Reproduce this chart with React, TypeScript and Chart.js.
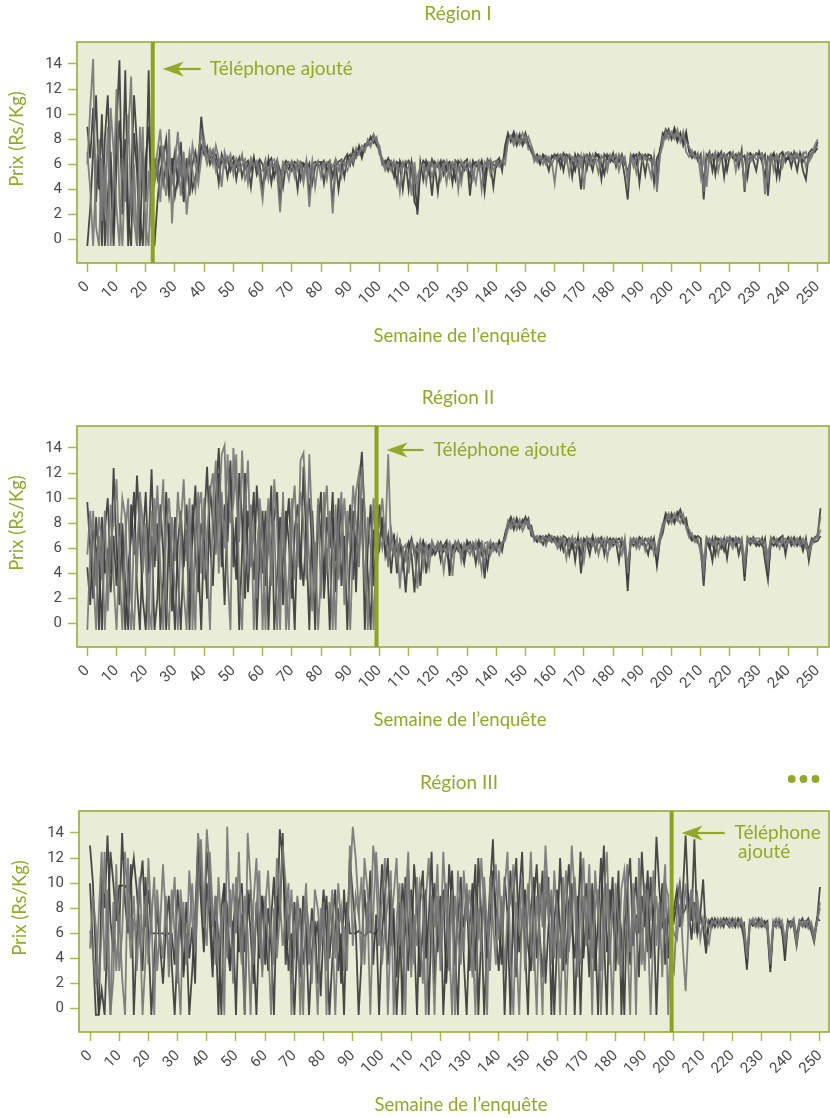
import React, { useEffect, useRef } from "react";
import { Chart, registerables } from "chart.js";
Chart.register(...registerables);

// ---------- data ----------
const weekTicks = [0, 10, 20, 30, 40, 50, 60, 70, 80, 90, 100, 110, 120, 130, 140, 150, 160, 170, 180, 190, 200, 210, 220, 230, 240, 250];
const priceTicks = [0, 2, 4, 6, 8, 10, 12, 14];
const regionTitles = ["Région I", "Région II", "Région III"];
const phoneWeeks = [22.4, 99, 199.2];
const phoneLabel = "Téléphone ajouté";
const yTitle = "Prix (Rs/Kg)";
const xTitle = "Semaine de l\u2019enquête";

// Region I (weeks 0..250)
const r1A = [
  9, 6.5, 10.5, 3, 7.5, -0.5, 8, 11.5, 5, -0.5,
  6, 9.5, 4, 13.5, 2, -0.5, 8.5, 5.5, -0.5, 7,
  3, 13.5, 1, 6.5, 5, 7.5, 4.5, 6, 3.5, 5.5,
  7, 4.5, 6, 3, 5.5, 6.5, 4, 5, 6, 9.8,
  7.5, 7, 6.5, 7, 6.2, 4.5, 6.8, 6, 6.5, 5.5,
  6.2, 5.8, 6.5, 5, 6, 6.3, 5.5, 6.6, 5.2, 6,
  4, 5.8, 6.2, 6.5, 5, 6, 3, 5.8, 6.3, 6,
  5.5, 6.2, 6, 4.8, 6.1, 5.9, 3.5, 6, 6.2, 5.8,
  6, 6.3, 5.5, 6, 3, 5.8, 6.2, 6.4, 5, 6.5,
  6.8, 6, 7, 7.3, 6.5, 7.5, 7.8, 8, 8.3, 7.5,
  7.2, 6, 6.3, 5.5, 6.2, 6, 4.5, 6.3, 5.8, 6.1,
  4, 6.2, 5, 2, 5.5, 6.3, 6, 5.2, 6.4, 5.8,
  3.8, 6, 6.3, 5.5, 6.1, 4.5, 6.3, 6, 5, 6.2,
  6.4, 3.5, 6, 6.2, 5.6, 6.3, 5, 6.4, 6, 4.2,
  6.2, 6.5, 5.5, 7.5, 8.5, 7.8, 8.3, 7.5, 8.2, 7.8,
  8.5, 7.6, 7, 6.5, 6.8, 6.2, 6.6, 6.3, 5.5, 6.7,
  6.5, 6.8, 5.8, 6.9, 6.5, 6.7, 5, 6.8, 6.2, 4,
  6.5, 6.8, 6.3, 5.5, 6.9, 6.6, 4.8, 6.8, 6.5, 6.2,
  6.9, 5.8, 6.7, 6.4, 5, 3.2, 6.5, 6.8, 6, 6.9,
  6.5, 5.2, 6.8, 6.7, 4.5, 6.5, 7, 8.5, 8.2, 8.8,
  8, 8.7, 7.8, 8.5, 7.5, 8.3, 7.2, 6.8, 7, 6.3,
  6.8, 3.2, 6.5, 7, 5.5, 6.8, 6.6, 7, 5, 6.8,
  7, 6.5, 6.8, 5.8, 7.1, 3.8, 6.7, 6.9, 6.3, 5.5,
  7, 6.4, 6.8, 3.5, 6.5, 6.9, 5, 6.8, 7, 6.2,
  6.7, 5.8, 7, 6.5, 6.8, 5.5, 4.8, 6.9, 7.2, 7,
  7.8,
];
const r1B = [
  6, 10.5, 14.4, 1, -0.5, 6.5, 2, 9, -0.5, 4.5,
  12, 3, -0.5, 6, 8.5, 13, 1.5, -0.5, 4, 9,
  -0.5, 5.5, 2.5, 5.5, 7, 8.8, 5, 3.5, 8.8, 1.3,
  6, 8.6, 5, 7, 2, 4.5, 7.5, 6, 4.5, 6.5,
  8, 6.5, 7.2, 6, 7.5, 6.5, 4.2, 7, 6.2, 6.8,
  5.2, 6.5, 6, 6.8, 4.8, 5.5, 6.5, 5.8, 6, 5,
  3.2, 6, 5.5, 6.2, 6.4, 5.2, 2.2, 6, 5.5, 6.2,
  6, 5, 6.3, 5.9, 4.5, 6.2, 2.6, 5.5, 6, 6.3,
  5, 6, 6.2, 5.8, 2.1, 6, 5.5, 6.3, 6, 5.5,
  6.2, 6.8, 6.5, 7, 7.2, 7, 8, 7.6, 8, 8.2,
  6.8, 6.5, 5.8, 6.2, 5.5, 6.3, 5.8, 3.8, 6, 6.3,
  6, 3.5, 6.2, 4, 6, 5.8, 4.5, 6.2, 6, 5.5,
  6.2, 4.8, 5.8, 6.3, 5, 6, 6.2, 4, 6.3, 5.8,
  5.5, 6.2, 4.8, 6, 6.3, 4, 6.2, 5.8, 6.4, 5.5,
  6, 5.8, 6.3, 6, 8, 8.3, 7.5, 8, 7.8, 8.5,
  7.8, 8.2, 7.5, 6.8, 6.2, 6.7, 6.4, 6, 6.6, 6.2,
  4.5, 6.6, 6.8, 6.3, 6.6, 5.2, 6.6, 6.5, 5.8, 6.7,
  4, 6.6, 6, 6.8, 6.3, 5.3, 6.7, 6.4, 5.5, 6.8,
  6.5, 6.8, 5.5, 6.6, 6.5, 4.5, 6.8, 6.3, 5.3, 6.6,
  6.8, 6.5, 6, 5, 6.7, 3.8, 6.8, 7.5, 8.6, 8,
  8.6, 8.2, 8.8, 7.8, 8.6, 7, 6.6, 7.1, 6.5, 6.9,
  5, 6.7, 4.2, 6.8, 6.5, 7, 5.5, 6.7, 6.9, 6.4,
  6.6, 7, 5.5, 6.8, 6.5, 4.5, 6.9, 6.6, 6.8, 6.4,
  6.5, 6.8, 3.6, 6.4, 6.8, 5.5, 6.7, 6.4, 5.8, 6.9,
  7, 6.6, 6.2, 6.9, 6.5, 6.8, 7, 6.2, 6.6, 7.2,
  7.5,
];
const r1C = [
  -0.5, 2.5, 7, 11.5, 4, 10, -0.5, 3.5, 7, 1,
  9, 14.3, 2, 8, -0.5, 5, 11.5, 7.5, 2, -0.5,
  6.5, 9, 4, -0.5, 3, 5.5, 6.5, 8, 4, 6.5,
  3.5, 5, 7.8, 4, 6.5, 3.5, 6, 7, 5.5, 7.5,
  6.8, 7.4, 6, 6.6, 6.8, 5.8, 6.2, 6.5, 5, 6.3,
  6.6, 4.8, 6.2, 6.5, 5.6, 6, 4.2, 6.3, 5.8, 6.4,
  6, 5, 6.4, 4.5, 6, 6.3, 5.5, 4.2, 6, 5.6,
  6.2, 5.8, 4, 6.2, 6, 5.5, 6.1, 4.5, 5.8, 6.2,
  6.2, 4.5, 6, 6.3, 5, 6.2, 4, 5.8, 6.4, 6.8,
  6, 7.2, 6.6, 7.5, 6.8, 7.6, 7.5, 8.2, 7.7, 8,
  7, 6.3, 6, 6.5, 6, 5, 6.2, 6, 4, 6,
  6.3, 5.8, 3, 2.5, 6.2, 4.8, 6.3, 5.8, 3.5, 6.2,
  5.8, 6.3, 5.2, 6, 6.2, 5.8, 4.8, 6.3, 6, 5.5,
  6, 5, 6.3, 5.8, 6, 6.2, 3.8, 6, 6.3, 6,
  5.8, 6.2, 6, 6.8, 8.2, 8, 8.6, 7.8, 8.4, 7.5,
  8, 7.5, 7.2, 6.6, 6.5, 6, 6.8, 6.5, 6.2, 6.5,
  6.8, 6.2, 6.6, 5.5, 6.8, 6.6, 6.2, 5.5, 6.8, 6.5,
  6.6, 5.6, 6.8, 6.2, 6.6, 6.8, 6, 5.2, 6.8, 6.5,
  6.2, 6.6, 6.2, 6.8, 6, 5.5, 6.2, 6.6, 6.8, 4.5,
  6.6, 6.8, 6.4, 6.5, 6.2, 5, 7.2, 8, 8.8, 8.4,
  8.2, 8.9, 8, 8.4, 7.8, 8.6, 7, 6.5, 6.8, 6.6,
  6.5, 4.5, 6.8, 6.5, 6.8, 5.2, 6.9, 6.5, 6.8, 5.5,
  6.8, 6.6, 6.3, 6.9, 6.5, 6.7, 5, 6.8, 6.5, 6.9,
  6.8, 6.2, 5, 6.6, 6.2, 6.8, 6.5, 5, 6.8, 6.5,
  6.4, 6.9, 6.5, 5.5, 6.9, 6.2, 6.6, 6.5, 6.9, 7,
  7.3,
];
const r1D = [
  7, 4, -0.5, 5.5, 8, 1.5, 6, -0.5, 10.5, 7,
  2.5, -0.5, 6.5, 3, 10, 2.5, 6, -0.5, 9, 4.5,
  1, -0.5, 6, 4.5, 6, 3, 7.5, 5, 6.5, 4.5,
  5.5, 6.5, 3.5, 6.5, 5, 7, 5.5, 4, 6.8, 8.5,
  7.2, 6, 6.8, 7.2, 5.5, 6.3, 6.5, 5.8, 6.6, 6,
  5.8, 6.3, 5.5, 6, 6.4, 4.5, 6.2, 6, 6.3, 5.5,
  5.5, 6.4, 4.8, 6, 5.8, 6.4, 4.5, 6.2, 5.8, 4.8,
  6.3, 6, 5.5, 6.1, 5.2, 6.3, 5, 6.3, 4.2, 6,
  5.8, 6.2, 4.8, 6.2, 5.8, 6.4, 6, 5, 6.2, 6,
  6.5, 6.2, 7.3, 6.8, 7.5, 7.2, 7.8, 7.4, 8.4, 7.8,
  7.5, 6.2, 5.5, 6, 6.3, 5.8, 6, 5.5, 6.2, 5.5,
  5.8, 6, 4.5, 5, 5.8, 6, 5.5, 6, 5, 6,
  6, 5.5, 6, 4.5, 6, 6.2, 5.5, 5.8, 4.5, 6,
  6.2, 5.8, 5.5, 4.5, 6.2, 5.8, 6, 6.3, 5.2, 6.2,
  6.3, 6, 6.2, 6.5, 7.8, 8.2, 7.8, 8.4, 7.6, 8,
  8.3, 7.2, 7.4, 6.2, 6.6, 6.5, 6, 6.7, 6.4, 6,
  6.6, 6.4, 6.8, 6.6, 6.2, 6.8, 6.5, 6.2, 6.6, 5.8,
  6.8, 6.5, 6.6, 6, 6.5, 6.2, 6.6, 6.5, 6, 6.6,
  6.4, 6, 6.8, 6.2, 6.6, 5, 6.6, 5.8, 6.5, 6.6,
  6.2, 6.6, 6.5, 6.2, 6.6, 4.2, 6.6, 8.2, 8, 8.6,
  8.4, 8, 8.5, 8.1, 8.2, 7.8, 7.4, 6.8, 6.6, 6.8,
  6.6, 3.8, 6.6, 6.2, 6.6, 6.5, 6.3, 6.8, 6.5, 6.6,
  6.5, 6.8, 6.6, 6.3, 6.8, 4.2, 6.5, 6.2, 6.6, 6.8,
  6.6, 6.9, 6.3, 4.8, 6.7, 6.4, 6.8, 6.2, 6.5, 6.8,
  6.8, 6.4, 6.8, 6.7, 6.3, 6.9, 5.8, 6.6, 6.8, 7.5,
  8,
];

// Region II (weeks 0..251)
const r2A = [
  9.7, 6, 2, 8.5, 5, -0.5, 7.5, 10, 4, 12.4,
  6, 1.5, 8, 3, -0.5, 9.5, 5.5, 11.8, 7, 2,
  -0.5, 6.5, 12.3, 4.5, 8, -0.5, 3.5, 10.5, 6, 1,
  8.5, 4, -0.5, 6, 9.5, 2.5, 7, 11, 5, -0.5,
  8, 12.5, 6.5, 3, 10, 14, 7.5, 1.5, 9, 13,
  4.5, 8.5, -0.5, 6, 12, 2.5, 7, 10.5, -0.5, 5.5,
  9, 3, 6.5, 11, -0.5, 4, 8.5, 1.5, 7, 10,
  5, -0.5, 8, 3.5, 12.5, 6.5, -0.5, 9, 4, 7.5,
  10.5, 2, 6, -0.5, 8.5, 5, 10, 3, 7, -0.5,
  5.5, 9, 2.5, 11, 13.7, 8, 4, -0.5, 7.5, 5,
  9.5, 7, 6, 5, 6.5, 7, 4, 6.5, 5.5, 2.5,
  6, 6.8, 5.5, 6.2, 3, 6.5, 6, 6.3, 5.5, 6,
  6.4, 5, 6.2, 6.6, 3.8, 6, 6.5, 5.8, 6.3, 5.5,
  6.6, 6, 6.3, 4.8, 6.2, 6.5, 3.6, 6.2, 6, 6.4,
  5.8, 6.5, 6.2, 7, 7.8, 8.2, 7.5, 8.4, 7.8, 8,
  8.5, 7.6, 7.8, 6.8, 6.5, 7, 6.8, 6.5, 7.1, 6.8,
  6.5, 6.9, 6, 7, 6.8, 5.5, 6.7, 5, 6.8, 4,
  6.5, 6.8, 6.2, 7, 5.8, 6.6, 6.9, 5.5, 6.8, 6.3,
  6.8, 6.5, 5, 6.7, 6, 2.6, 6.5, 6.8, 6.2, 6.9,
  6.6, 6.3, 5.5, 6.8, 6.5, 4.6, 6.6, 7.2, 8.5, 8,
  8.8, 8.2, 8.6, 9.1, 8.3, 8, 7.2, 6.8, 7, 6.5,
  6, 3, 6.8, 6.3, 5, 6.9, 6.5, 6, 6.8, 5.2,
  6.9, 6.5, 6.8, 5.5, 6.6, 3.4, 6.8, 6.3, 6.9, 6.5,
  6.2, 6.8, 5, 3.5, 6.6, 6.9, 6.2, 6.8, 7, 5.5,
  6.8, 6.5, 6.9, 6.2, 6.6, 5.8, 6.8, 5, 6.5, 6.9,
  7, 9.2,
];
const r2B = [
  5.5, 9, 4, -0.5, 7, 3.5, 9, 1, 6.5, 8,
  11.5, 4.5, -0.5, 7, 10, 2, -0.5, 6, 9.5, 4,
  8, 1.5, -0.5, 10, 5, 7.5, 11.5, 2, -0.5, 8.5,
  5, 10.5, 7, 2.5, -0.5, 8, 4.5, -0.5, 9, 10.5,
  3.5, 7, 10.5, 12, 5.5, 8.5, 13.5, 14.2, 4, -0.5,
  14, 10.5, 6.5, 13.8, 7.5, 4, 9.5, -0.5, 6, 8.5,
  -0.5, 6.5, 10, 4.5, 8, -0.5, 6, 9.5, 3.5, -0.5,
  8.5, 11, 4.5, 13, 13.6, 9, 5, 1, 6.5, -0.5,
  4, 8.5, 11, 5, -0.5, 9.5, 3.5, 6.5, 10, 5.5,
  -0.5, 6.5, 10.5, 12, 7, 3, 8.5, 6, -0.5, 6.5,
  8, 10, 6.5, 13.5, 6, 5.5, 6.8, 2.8, 6, 6.3,
  4, 6.5, 6.2, 5.8, 6.6, 4.5, 6.3, 5.5, 6.6, 6,
  5.8, 6.3, 4.2, 6, 6.5, 5.5, 6.2, 6.6, 5, 6.4,
  6, 5.5, 6.5, 6.2, 5.8, 4.2, 6.4, 6.5, 5.5, 6.2,
  6.4, 6, 6.5, 6.8, 8.2, 7.6, 8, 7.7, 8.3, 7.4,
  7.9, 8.2, 7.3, 7, 6.8, 6.5, 7, 6.8, 6.6, 7,
  6.8, 6.2, 6.9, 6.6, 5.2, 6.8, 6.5, 6.8, 6.2, 6.6,
  5, 6.9, 6.6, 6.2, 6.8, 5.5, 6.5, 6.8, 5.2, 6.6,
  6.5, 6.8, 6.2, 5.5, 6.8, 4, 6.8, 6.5, 6.8, 6,
  6.8, 5.8, 6.6, 6.9, 5.5, 6, 7, 8, 8.2, 8.6,
  8, 8.8, 8.4, 8, 8.7, 7.6, 6.9, 7.2, 6.5, 6.8,
  5.5, 4, 6.5, 6.8, 6.2, 6.6, 5.5, 6.8, 6.5, 6.8,
  6.5, 6, 6.9, 6.6, 6.2, 4.5, 6.9, 6.6, 6.4, 6.8,
  6.8, 6.5, 6, 4.5, 6.9, 6.5, 6.8, 6, 6.6, 6.8,
  6.5, 6.9, 6.4, 6.8, 6.2, 6.5, 6.6, 5.5, 6.3, 6.6,
  7.2, 8.5,
];
const r2C = [
  4.5, 1.5, 7.5, 6, -0.5, 8.5, 4, 6, 2.5, 7,
  3, 8, 5.5, -0.5, 4.5, 7, 10.5, 3, -0.5, 6.5,
  10.5, 4, 7, -0.5, 2, 9.5, 5.5, -0.5, 8, 4.5,
  -0.5, 6.5, 9, 4.5, 7.5, -0.5, 9.5, 5.5, 2.5, 8,
  6.5, 2, 11, 8, 6, 12, 4.5, 9.5, 6.5, 11.5,
  7, 3.5, 12, 8, 2, 9, 6.5, 3.5, 11, 7,
  4, 9, -0.5, 6, 8.5, 10.5, 2.5, 5, 9, 6.5,
  2, 7.5, 9.5, 5.5, 3, 8, 10, 6, -0.5, 9.5,
  7, 3.5, 8.5, 6, 10.5, 2.5, 7, 9.5, 4, 6.5,
  9.5, 3.5, 7, 5.5, 10, -0.5, 6, 9.5, 3, 7,
  6, 8.5, 5.5, 7, 4, 6.8, 5.8, 6.5, 4.5, 5.8,
  6.5, 5.5, 2.5, 6.3, 5.8, 6.5, 4, 6.2, 6, 5.5,
  6, 6.5, 5.8, 6.3, 4.5, 6.2, 5.8, 6.5, 6, 4.8,
  6.3, 6.5, 5.8, 6, 6.6, 5.5, 6, 4.5, 6.3, 6,
  6, 6.6, 5.8, 7.2, 8, 8.5, 7.8, 8.2, 7.6, 8.3,
  8, 8.4, 7, 6.9, 6.6, 6.8, 6.3, 7, 6.8, 6.5,
  6.9, 6.5, 6.8, 5.8, 6.6, 6.8, 6, 6.5, 6.8, 5.5,
  6.8, 6.5, 5.5, 6.8, 6.5, 6.8, 6.2, 6.6, 6.5, 6.8,
  6.2, 6.6, 6.8, 6.3, 6.6, 3.5, 6.6, 6.2, 6.6, 6.5,
  6.3, 6.8, 6.5, 6, 6.8, 5, 6.8, 7.8, 8.8, 8.4,
  8.5, 8, 8.9, 8.6, 8, 8.4, 7, 6.6, 6.8, 7,
  6.8, 3.5, 6.6, 6, 6.8, 5.5, 6.8, 6.6, 5.8, 6.6,
  6.6, 6.8, 6.2, 6.8, 6.5, 3.8, 6.5, 6.8, 6.6, 6.2,
  6.6, 6.2, 6.8, 3.8, 6.5, 6.2, 6.6, 6.8, 6.2, 6.5,
  6.9, 6.2, 6.6, 6.5, 6.9, 6.2, 6.4, 6, 6.8, 6.5,
  6.6, 7,
];
const r2D = [
  -0.5, 5.5, 9, 3, 8.5, 6.5, -0.5, 5, 9.5, 3.5,
  -0.5, 5.5, 10, 8.5, 2, -0.5, 7.5, 4, 10.5, 8,
  5, -0.5, 9, 6.5, 11, 4.5, -0.5, 7.5, 10, 5.5,
  3, -0.5, 8, 11.5, 5, 10, -0.5, 7.5, 10.5, 4,
  10, 5, -0.5, 9.5, 13, 4, 10.5, 6, 13.5, 8,
  9.5, 13.5, 3, -0.5, 9, 13, 4.5, 8, 2, 10,
  7, -0.5, 8.5, 3, 11.5, 7.5, -0.5, 10.5, -0.5, 4,
  10, 3.5, 7, 10.5, 8, 3.5, 13.5, 7.5, 3, 10,
  2, 10.5, 4, 9, 5.5, -0.5, 8, 10.5, 1.5, 9,
  6, 11, 8, 4.5, 12.5, 9, -0.5, 5, 10, 4,
  7, 6, 8, 4.5, 7.5, 6, 5, 6.5, 6, 5,
  5.5, 6.2, 6, 2.8, 6.5, 6, 5.8, 4.5, 6.5, 5.8,
  6.5, 5.8, 6, 5.5, 6.3, 3.8, 6.5, 6, 5.5, 6.2,
  5.8, 6.3, 5.5, 6.5, 5, 6.3, 4.8, 6, 6.6, 5.8,
  6.2, 5.5, 6.4, 6.6, 7.5, 8, 8.4, 7.5, 8, 7.8,
  8.2, 7.8, 7.6, 6.6, 7, 6.6, 6.8, 6.2, 6.9, 6.6,
  6.6, 6, 6.5, 6.8, 6.4, 6.2, 6.9, 6, 6.4, 6.8,
  6.2, 6.6, 6.8, 6.5, 6, 6.8, 6.5, 6.2, 6.8, 6,
  6.6, 6.3, 6.5, 6.8, 5.5, 5, 6.2, 6.8, 6, 6.6,
  6.5, 6.6, 6.8, 6.2, 6.5, 5.5, 6.5, 7.6, 8.2, 8.8,
  8.2, 8.6, 8.2, 8.8, 8.5, 7.8, 7.5, 7, 6.6, 6.4,
  6.2, 5, 6.9, 6.6, 6.5, 6.2, 6.6, 6.5, 6.2, 6.9,
  6.8, 6.3, 6.6, 6.4, 6.8, 5, 6.6, 6.5, 6.8, 6.6,
  6.4, 6.6, 6.5, 5.5, 6.8, 6.6, 6.4, 6.5, 6.8, 6.2,
  6.6, 6.8, 6.2, 6.6, 6.5, 6.8, 6, 5.8, 6.6, 6.8,
  6.8, 7.5,
];

// Region III (weeks 0..250)
const r3A = [
  13, 10, 4, -0.5, 1.5, -0.5, 6, 12.5, 10, 7,
  9.8, 9.8, 9.8, 9.5, 10, 12, 9.5, 6, 3, 10.5,
  6, -0.5, 4, 8, 5, 2, 6.5, 9, 3.5, -0.5,
  5, 8, 2.5, 6, -0.5, 3, 7.5, 13, 10.5, 6,
  12.5, 9.5, 4, 7, -0.5, 8, 10, 5, 3, 6.5,
  9, 4.5, 7.5, -0.5, 9.5, 6, 2, 8.5, 4, 9,
  6.5, 3, 7, 10.5, 5.5, 14.3, 12, 8, 3, 6,
  -0.5, 5.5, 8, 3.5, 6, -0.5, 4.5, 7, 2, 6,
  9.5, 6, -0.5, 4, 6.5, 8, 2, 9.5, 5, 12,
  9, 6.5, -0.5, 4, 9.5, 6, 11, 3.5, 7.5, -0.5,
  6, 9, 12, 5, 8, -0.5, 4.5, 10, 7, 3,
  9.5, 6, -0.5, 8.5, 11, 4, 7, 12.5, 2, 6,
  9, -0.5, 5, 11.5, 8, 3.5, 7, 10.5, 4, -0.5,
  6.5, 10, 3, 12, 7.5, -0.5, 5.5, 9.5, 13.5, 6,
  3, 8.5, -0.5, 6, 11, 7, 2.5, 9, 12.5, 5,
  -0.5, 8, 10.5, 4, 7.5, 11, 2, 6.5, 9, -0.5,
  5.5, 12, 7, 3.5, 8.5, 10, -0.5, 6, 12.5, 4,
  7.5, 2.5, 10, 6.5, -0.5, 8, 13, 4.5, 7, 10.5,
  3, 8.5, 6, -0.5, 9.5, 12, 5, 7.5, 2.5, 9,
  6.5, 11, 4, 8, -0.5, 6.5, 10, 3.5, 7.5, 6,
  8, 9.5, 6.5, 9, 13.8, 8, 5.5, 8.5, 6, 7.5,
  6.5, 4.4, 7, 6.5, 7.2, 6.8, 7, 6.5, 7.2, 6.8,
  7, 6.5, 7.2, 6.8, 5.5, 3.1, 6.8, 7, 6.6, 7.2,
  6.8, 7, 6.2, 2.9, 6.5, 7, 6.8, 6.5, 3.8, 6.8,
  7, 6.5, 5, 6.8, 7.2, 6.5, 6.8, 6.2, 5.3, 7,
  9.7,
];
const r3B = [
  6.2, 4.5, 2, 7.5, 12.5, 3, 9.5, -0.5, 2.5, 11.5,
  3, 6, 12.5, 8, 4, 7, 6.5, 10.5, 5, 9,
  3.5, 8, -0.5, 9.5, 6, 4, 9, 2.5, 7, 10.5,
  4, -0.5, 8.5, 3.5, 6, 10, 5, 14, 12, 6.5,
  14.3, 11, 6.5, 9, 4, 7.5, -0.5, 14.5, 6.5, 10,
  6, 12.5, 5, -0.5, 14, 10, 3.5, 8, 11, 2.5,
  9, 5.5, -0.5, 8, 4, 7.5, 13, 10, 5.5, 9.5,
  4, 8.5, -0.5, 6.5, 10, 3.5, 7, 5, -0.5, 8,
  6, 3, 8.5, 6.5, -0.5, 6.5, 8, 3, 7, 10,
  14.5, 12, 8, 3.5, 12, 9.5, 6, 13, 10.5, 5,
  8.5, 12, -0.5, 6.5, 9, 12, 5, 8.5, -0.5, 11,
  7, 3.5, 10.5, 6, 2, 8.5, 12, 6.5, -0.5, 9,
  5, 12.5, 7.5, 3, 9.5, -0.5, 11, 8, 4.5, 10,
  6, 2.5, 9, 5.5, 12, 8, -0.5, 10.5, 7, 3.5,
  11, 6, 9.5, 12.5, 4, -0.5, 8.5, 6, 10.5, 3,
  7.5, 12.5, 5.5, -0.5, 10, 6.5, 13, 8.5, 3.5, 11,
  7, 4, 10.5, -0.5, 6, 13, 9, 2.5, 8, 12,
  5, 9.5, -0.5, 11, 7.5, 3, 9, 12.5, 6, -0.5,
  10, 7, 2.5, 8.5, 11.5, 4.5, 9, -0.5, 12, 6.5,
  3, 9.5, 7, 11, 5, 8.5, 2.5, 10, 9, 4,
  3, 7.5, 10, 5, 1.4, 7, 9.5, 6, 8, 5.5,
  7.2, 6, 5.2, 7, 6.8, 7.2, 6.5, 7, 6.8, 7.2,
  6.5, 7, 6.8, 7.2, 6.5, 4.5, 7, 6.8, 7.2, 6.5,
  7, 6.5, 6.8, 4, 7, 6.5, 7.2, 6.8, 5, 6.5,
  6.8, 7.2, 5.5, 6.6, 6.8, 7, 6.4, 6.9, 6, 6.8,
  8.5,
];
const r3C = [
  10, 4.8, -0.5, -0.5, 10.5, 8, 13.8, 7, 4.5, 9.5,
  6, 14, 8.5, 6, 11.5, -0.5, 5.5, 9.5, 11.8, 6.5,
  9.5, 6, 6, 6, 6, 6, 5.8, 6, 6, 3.5,
  9.5, 6.5, 3, 8.5, 4, 6.5, 2, 12.5, 8.5, 4.5,
  10, 7, 2.5, 9, 5.5, -0.5, 10, 8, 3.5, 7,
  -0.5, 8.5, 10, 4.5, 7.5, 9.5, 5, -0.5, 7, 9,
  3.5, 8, 5.5, -0.5, 9, 7, 14, 3.5, 7.5, 2,
  8.5, 5, 2.5, 9, 6.5, 4, 8, 5.5, 7, 1,
  6.5, 9, 4, 7, 9.5, 3, 6, -0.5, 8.5, 6,
  6, 6, 6.2, 6, 5.8, 6, 6.2, 6, 6, 6.5,
  11.5, 7, 3.5, 9.5, 6, 2.5, 8.5, -0.5, 10.5, 6.5,
  4, 11.5, 8, 2.5, 6.5, 9.5, -0.5, 7.5, 10, 4.5,
  7, 9.5, 2, 6.5, 11, 5, -0.5, 8.5, 6.5, 9.5,
  3, 7.5, 11.5, -0.5, 6, 9, 4, 7, 11, 8,
  6.5, 3.5, 10.5, 7.5, -0.5, 9, 12, 4.5, 7, 9.5,
  5, 3, 8.5, 11.5, 6, 2.5, 8, 10.5, -0.5, 7,
  9.5, 6.5, 3, 8, 11.5, 6.5, 4, 9, -0.5, 7.5,
  10, 5.5, 8.5, 3, 7, 12, 6, -0.5, 9.5, 7.5,
  5, 11, -0.5, 6.5, 9, 3.5, 7.5, 10.5, 6, 12.5,
  8, 4.5, 10.5, 6.5, 13.7, 9.5, 6.5, 7, 4, 8.5,
  7, 8.5, 10, 7.5, 8, 9, 7, 13.5, 6, 7.5,
  10.3, 5.5, 6.8, 7.2, 6.5, 7, 6.6, 7.2, 6.8, 6.5,
  7.2, 6.8, 7, 6.5, 6.8, 3.6, 7, 6.6, 6.8, 7,
  6.5, 6.8, 7, 3.2, 6.8, 6.5, 7, 6.2, 4.5, 7,
  6.5, 7, 5.8, 7, 6.6, 6.8, 7.2, 6.5, 5.8, 7.2,
  7,
];
const r3D = [
  4.8, 9, 6.5, 2, 6, 12.5, 4, -0.5, 8.5, 3,
  7.5, 2.5, -0.5, 12, 5.5, 9, 3, 7.5, -0.5, 4,
  12, 7, 10.5, 3, 6.5, 11.5, 7, 4, 9.5, 6,
  2, 9.5, 6.5, 4, 11, 7, 4.5, 9, 13.5, 7.5,
  5, 12.5, 8, 3.5, 10.5, 6, 8.5, 4, 9.5, 2,
  10.5, 6.5, 3.5, 9, 6, -0.5, 8.5, 12, 5.5, 3,
  8, 11, 6, 3.5, 12, 9, 5, 7.5, 10, -0.5,
  5.5, 9, 7, -0.5, 8.5, 6.5, 2, 9.5, 8, 5,
  8.5, -0.5, 6.5, 9.5, 4, 10, 7, 6.5, 3, 13,
  5, 9, 7.5, 10.5, 3.5, 8.5, -0.5, 7.5, 12.5, 8.5,
  3.5, 6.5, 8.5, 11, -0.5, 7, 10, 4, 8, 12.5,
  2.5, 7.5, 5, 10, 8.5, -0.5, 5.5, 9, 6.5, 11.5,
  3, 8, 10, 5.5, -0.5, 9, 6, 3.5, 11, 7,
  9.5, 6, -0.5, 8, 4.5, 10.5, 6.5, 3, 9, 11.5,
  5.5, 9, 3, 7.5, 8.5, 11.5, 5, -0.5, 8, 6.5,
  10, 6, 3, 9, 5.5, -0.5, 11, 7, 9.5, 4,
  8, -0.5, 6.5, 11, 4.5, 7.5, 10.5, 6.5, 3.5, 9,
  6.5, 11.5, 4, 8, 9.5, -0.5, 6, 10, 3.5, 8.5,
  7, 3.5, 9.5, 11, 6, -0.5, 10, 6.5, 8, 3.5,
  10, 7, -0.5, 6.5, 9, 5, 8, 11.5, -0.5, 7,
  6, 5.5, 8, 7, 10, 6.5, 9.5, 7.5, 9, 6.8,
  6.8, 7.2, 6.5, 6.8, 7, 6.5, 7.2, 6.8, 7, 6.6,
  6.8, 7.2, 6.5, 7, 6.2, 4, 6.8, 7.2, 6.5, 6.8,
  7.2, 6.6, 6.5, 3.5, 6.8, 7.2, 6.5, 7, 5.5, 6.8,
  6.6, 6.8, 5.2, 7, 6.5, 6.8, 7, 6.6, 5.5, 6.9,
  8,
];

// ---------- styles ----------
const OLIVE = "#93a82a";
const OLIVE_LINE = "#8ca223";
const PLOT_BG = "#e9ecd6";
const TICK_MARK = "#a9bb4e";
const TICK_TEXT = "#4a4a4a";
const DARK = "rgba(58,58,58,0.92)";
const MID = "rgba(118,118,118,0.92)";
const TEXT_FONT = "Lato, 'Open Sans', sans-serif";
const TICK_FONT = "'Liberation Sans Narrow', Roboto, sans-serif";

const PLOT_TOP = 42;
const PLOT_BOTTOM = 263;

type PanelCfg = {
  title: string;
  series: number[][];
  phone: number;
  top: number;
  height: number;
  plotLeft: number;
  xMin: number;
  xMax: number;
  arrowDy: number;
  lineLen: number;
  textGap: number;
  twoLine: boolean;
  dots: boolean;
  yTitleX: number;
};

const panels: PanelCfg[] = [
  { title: regionTitles[0], series: [r1B, r1D, r1A, r1C], phone: phoneWeeks[0], top: 0, height: 384, plotLeft: 77, xMin: -3.53, xMax: 253.9, arrowDy: 27, lineLen: 38, textGap: 47, twoLine: false, dots: false, yTitleX: 17 },
  { title: regionTitles[1], series: [r2B, r2D, r2A, r2C], phone: phoneWeeks[1], top: 384, height: 385, plotLeft: 77, xMin: -3.53, xMax: 253.9, arrowDy: 24, lineLen: 37, textGap: 47, twoLine: false, dots: false, yTitleX: 17 },
  { title: regionTitles[2], series: [r3B, r3D, r3A, r3C], phone: phoneWeeks[2], top: 769, height: 349, plotLeft: 79, xMin: -3.77, xMax: 253.1, arrowDy: 22, lineLen: 43, textGap: 53, twoLine: true, dots: true, yTitleX: 20 },
];

function makeDeco(cfg: PanelCfg) {
  return {
    id: "deco",
    beforeDraw(chart: any) {
      const { ctx, chartArea: a } = chart;
      ctx.save();
      ctx.fillStyle = PLOT_BG;
      ctx.fillRect(a.left, a.top, a.right - a.left, a.bottom - a.top);
      ctx.restore();
    },
    afterDatasetsDraw(chart: any) {
      const { ctx, chartArea: a, scales } = chart;
      ctx.save();
      ctx.strokeStyle = OLIVE;
      ctx.lineWidth = 1.5;
      ctx.strokeRect(a.left, a.top, a.right - a.left, a.bottom - a.top);
      const px = scales.x.getPixelForValue(cfg.phone);
      ctx.strokeStyle = OLIVE_LINE;
      ctx.lineWidth = 4;
      ctx.beginPath();
      ctx.moveTo(px, a.top);
      ctx.lineTo(px, a.bottom);
      ctx.stroke();
      const tip = px + 10;
      const ay = a.top + cfg.arrowDy;
      ctx.strokeStyle = OLIVE;
      ctx.fillStyle = OLIVE;
      ctx.lineWidth = 2.2;
      ctx.beginPath();
      ctx.moveTo(tip + 12, ay);
      ctx.lineTo(tip + cfg.lineLen, ay);
      ctx.stroke();
      ctx.beginPath();
      ctx.moveTo(tip, ay);
      ctx.lineTo(tip + 21, ay - 7.5);
      ctx.lineTo(tip + 15, ay);
      ctx.lineTo(tip + 21, ay + 7.5);
      ctx.closePath();
      ctx.fill();
      ctx.font = `19px ${TEXT_FONT}`;
      ctx.textBaseline = "middle";
      ctx.textAlign = "left";
      if (cfg.twoLine) {
        const parts = phoneLabel.split(" ");
        ctx.fillText(parts[0], tip + cfg.textGap, ay);
        ctx.fillText(parts[1], tip + cfg.textGap + 3.5, ay + 19);
      } else {
        ctx.fillText(phoneLabel, tip + cfg.textGap, ay);
      }
      ctx.restore();
    },
    afterDraw(chart: any) {
      const { ctx, chartArea: a } = chart;
      ctx.save();
      ctx.fillStyle = OLIVE;
      ctx.textAlign = "center";
      ctx.textBaseline = "middle";
      const cx = (a.left + a.right) / 2;
      ctx.font = `19px ${TEXT_FONT}`;
      ctx.fillText(cfg.title, cx + 5, a.top - 28);
      ctx.font = `18.5px ${TEXT_FONT}`;
      ctx.fillText(xTitle, cx + 7, a.top + 294);
      ctx.save();
      ctx.translate(cfg.yTitleX, a.top + 97);
      ctx.rotate(-Math.PI / 2);
      ctx.fillText(yTitle, 0, 0);
      ctx.restore();
      if (cfg.dots) {
        [791.7, 803.5, 815.5].forEach((dx) => {
          ctx.beginPath();
          ctx.arc(dx, a.top - 32, 3.9, 0, Math.PI * 2);
          ctx.fill();
        });
      }
      ctx.restore();
    },
  };
}

function Panel({ cfg }: { cfg: PanelCfg }) {
  const ref = useRef<HTMLCanvasElement | null>(null);
  useEffect(() => {
    if (!ref.current) return;
    const colors = [MID, MID, DARK, DARK];
    const chart = new Chart(ref.current, {
      type: "line",
      data: {
        datasets: cfg.series.map((s, k) => ({
          data: s.map((v, i) => ({ x: i, y: v })),
          borderColor: colors[k],
          borderWidth: 1.8,
          pointRadius: 0,
          tension: 0,
          fill: false,
        })),
      },
      options: {
        responsive: false,
        animation: false,
        devicePixelRatio: 1,
        layout: { padding: { left: 0, right: 1, top: PLOT_TOP, bottom: 0 } },
        plugins: { legend: { display: false }, tooltip: { enabled: false }, title: { display: false } },
        scales: {
          x: {
            type: "linear",
            min: cfg.xMin,
            max: cfg.xMax,
            afterBuildTicks: (s: any) => {
              s.ticks = weekTicks.map((v) => ({ value: v }));
            },
            afterFit: (s: any) => {
              s.height = cfg.height - PLOT_BOTTOM;
              s.paddingLeft = 0;
              s.paddingRight = 0;
            },
            grid: { drawOnChartArea: false, drawTicks: true, tickLength: 9, tickColor: TICK_MARK, tickWidth: 1.5 },
            border: { display: false },
            ticks: { autoSkip: false, minRotation: 45, maxRotation: 45, padding: 6, color: TICK_TEXT, font: { family: TICK_FONT, size: 15 } },
          },
          y: {
            min: -1.857,
            max: 15.753,
            afterBuildTicks: (s: any) => {
              s.ticks = priceTicks.map((v) => ({ value: v }));
            },
            afterFit: (s: any) => {
              s.width = cfg.plotLeft;
              s.paddingTop = 0;
              s.paddingBottom = 0;
            },
            grid: { drawOnChartArea: false, drawTicks: true, tickLength: 9, tickColor: TICK_MARK, tickWidth: 1.5 },
            border: { display: false },
            ticks: { padding: 6, color: TICK_TEXT, font: { family: TICK_FONT, size: 15 } },
          },
        },
      } as any,
      plugins: [makeDeco(cfg)],
    });
    return () => chart.destroy();
  }, [cfg]);
  return (
    <canvas
      ref={ref}
      width={830}
      height={cfg.height}
      style={{ position: "absolute", left: 0, top: cfg.top, width: 830, height: cfg.height, display: "block" }}
    />
  );
}

export default function App() {
  return (
    <div style={{ position: "absolute", left: 0, top: 0, width: 830, height: 1118, background: "#fff", overflow: "hidden" }}>
      {panels.map((p, i) => (
        <Panel key={i} cfg={p} />
      ))}
    </div>
  );
}
